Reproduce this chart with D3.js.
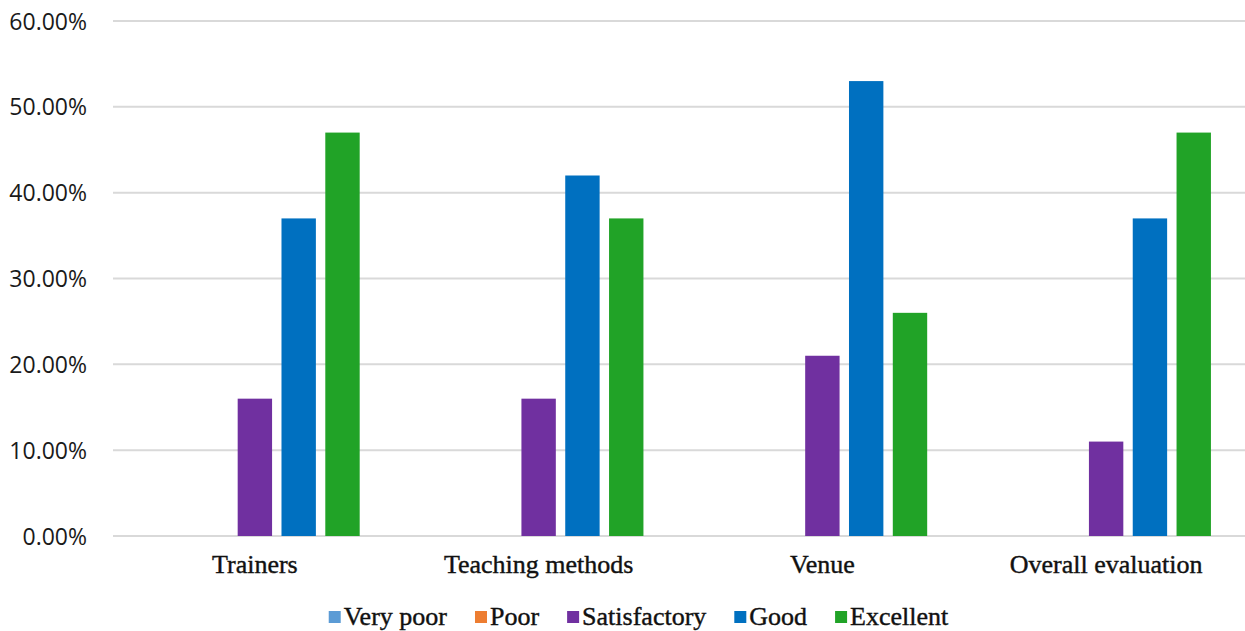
<!DOCTYPE html>
<html><head><meta charset="utf-8">
<script src="https://cdn.jsdelivr.net/npm/d3@7"></script>
<style>body{margin:0;background:#fff}svg{display:block}</style>
</head><body>
<svg id="c" width="1245" height="631"></svg>
<script>
const categories = ["Trainers", "Teaching methods", "Venue", "Overall evaluation"];
const seriesNames = ["Very poor", "Poor", "Satisfactory", "Good", "Excellent"];
const veryPoor = [0, 0, 0, 0];
const poor = [0, 0, 0, 0];
const satisfactory = [0.16, 0.16, 0.21, 0.11];
const good = [0.37, 0.42, 0.53, 0.37];
const excellent = [0.47, 0.37, 0.26, 0.47];
const yTicks = [0, 0.1, 0.2, 0.3, 0.4, 0.5, 0.6];
const colors = ["#5B9BD5", "#ED7D31", "#7030A0", "#0070C0", "#21A327"];

(function () {
const series = [veryPoor, poor, satisfactory, good, excellent];
const svg = d3.select("#c");
const pl = 113, pr = 1248, pt = 21, pb = 536;

const x = d3.scaleBand().domain(categories).range([pl, pr]).padding(0);
const inner = d3.scaleBand().domain(seriesNames).range([0, x.bandwidth()]).paddingInner(0.215).paddingOuter(0.846);
const y = d3.scaleLinear().domain([0, 0.6]).range([pb, pt]);

svg.append("g").selectAll("line").data(yTicks).join("line")
  .attr("x1", pl).attr("x2", 1245)
  .attr("y1", d => y(d)).attr("y2", d => y(d))
  .attr("stroke", "#d9d9d9").attr("stroke-width", 2);

const yAxis = d3.axisLeft(y).tickValues(yTicks).tickSize(0).tickPadding(0)
  .tickFormat(d => (d * 100).toFixed(2) + "%");
const ya = svg.append("g").attr("transform", `translate(87,0)`).call(yAxis);
ya.select(".domain").remove();
ya.selectAll("text").attr("font-family", "Open Sans").attr("font-size", 23).attr("fill", "#1a1a1a").attr("dy", "0.35em");

series.forEach((vals, si) => {
  svg.append("g").selectAll("rect").data(vals.map((v, i) => ({v, c: categories[i]}))).join("rect")
    .attr("x", d => x(d.c) + inner(seriesNames[si]))
    .attr("width", inner.bandwidth())
    .attr("y", d => y(d.v))
    .attr("height", d => y(0) - y(d.v))
    .attr("fill", colors[si]);
});

const xAxis = d3.axisBottom(x).tickSize(0).tickPadding(0);
const xa = svg.append("g").attr("transform", `translate(0,${pb})`).call(xAxis);
xa.select(".domain").remove();
xa.selectAll("text").attr("font-family", "Liberation Serif").attr("font-size", 26).attr("fill", "#111")
  .attr("stroke", "#111").attr("stroke-width", 0.4).attr("dy", 0).attr("y", 37);

const lg = svg.append("g");
let lx = 0;
seriesNames.forEach((n, i) => {
  const g = lg.append("g");
  g.append("rect").attr("x", lx).attr("y", 611).attr("width", 12).attr("height", 12).attr("fill", colors[i]);
  const t = g.append("text").attr("x", lx + 15).attr("y", 625).text(n)
    .attr("font-family", "Liberation Serif").attr("font-size", 26).attr("fill", "#111")
    .attr("stroke", "#111").attr("stroke-width", 0.4);
  lx += 15 + t.node().getComputedTextLength() + 28;
});
const total = lx - 28;
lg.attr("transform", `translate(${(326 + 951) / 2 - total / 2},0)`);
})();
</script>
</body></html>
